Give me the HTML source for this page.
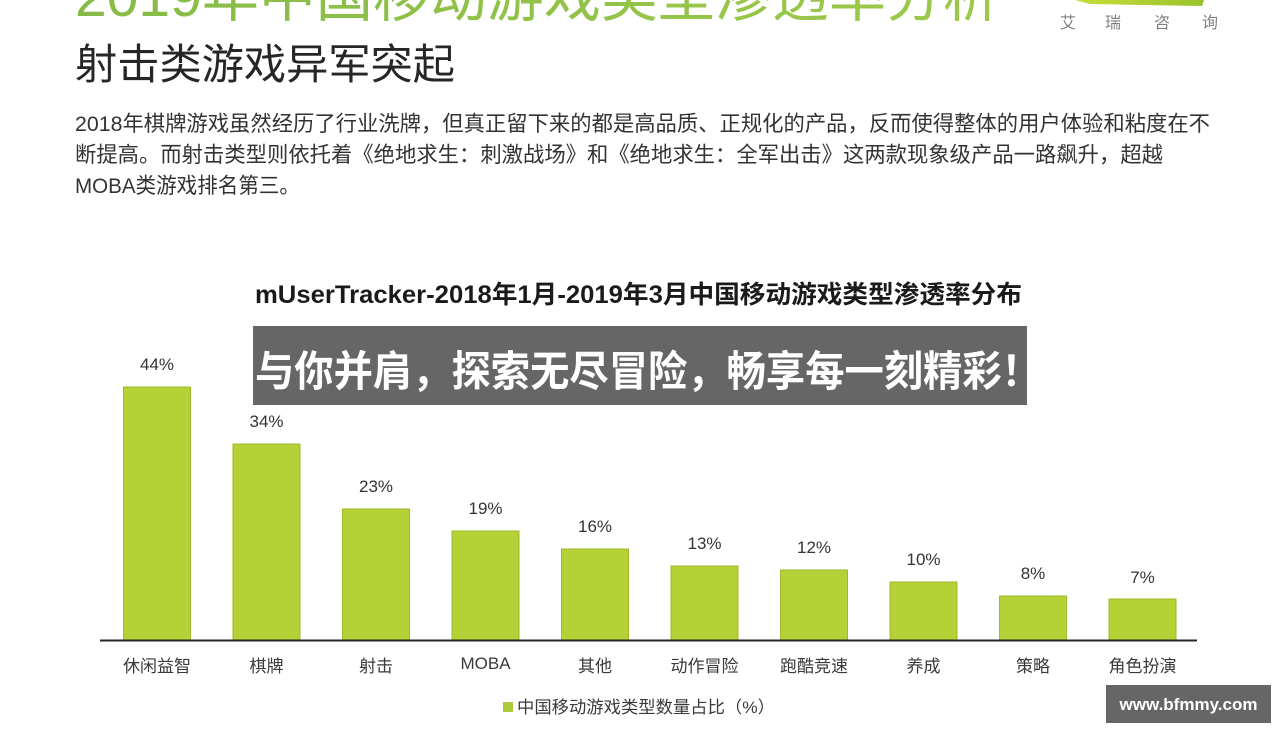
<!DOCTYPE html>
<html>
<head>
<meta charset="utf-8">
<style>
  html, body { margin:0; padding:0; background:#ffffff; }
  body { width:1280px; height:732px; overflow:hidden; }
  svg { display:block; }
  .cjk { font-family: "Liberation Sans", "Noto Sans CJK SC", sans-serif; }
</style>
</head>
<body>
<svg width="1280" height="732" viewBox="0 0 1280 732" xmlns="http://www.w3.org/2000/svg" class="cjk">
  <defs>
    <linearGradient id="tg" x1="0" y1="0" x2="1" y2="0">
      <stop offset="0" stop-color="#86bb47"/>
      <stop offset="1" stop-color="#9cc94a"/>
    </linearGradient>
    <linearGradient id="lg" x1="0" y1="0" x2="1" y2="0">
      <stop offset="0" stop-color="#c8dc3a"/>
      <stop offset="1" stop-color="#98c42a"/>
    </linearGradient>
  </defs>
  <rect x="0" y="0" width="1280" height="732" fill="#ffffff"/>

  <!-- top green title (cut off) -->
  <text x="75" y="16" font-size="57" fill="url(#tg)" textLength="925" lengthAdjust="spacingAndGlyphs">2019年中国移动游戏类型渗透率分析</text>

  <!-- logo -->
  <polygon points="1075,0 1204,0 1202,6 1090,4" fill="url(#lg)"/>
  <g font-size="16" fill="#808080" text-anchor="middle">
    <text x="1068" y="28">艾</text>
    <text x="1113" y="28">瑞</text>
    <text x="1162" y="28">咨</text>
    <text x="1210" y="28">询</text>
  </g>

  <!-- subtitle -->
  <text x="75" y="79" font-size="42" fill="#262626" textLength="380" lengthAdjust="spacingAndGlyphs">射击类游戏异军突起</text>

  <!-- paragraph -->
  <g font-size="21.5" fill="#333333">
    <text x="75" y="131" textLength="1135" lengthAdjust="spacingAndGlyphs">2018年棋牌游戏虽然经历了行业洗牌，但真正留下来的都是高品质、正规化的产品，反而使得整体的用户体验和粘度在不</text>
    <text x="75" y="162" textLength="1088" lengthAdjust="spacingAndGlyphs">断提高。而射击类型则依托着《绝地求生：刺激战场》和《绝地求生：全军出击》这两款现象级产品一路飙升，超越</text>
    <text x="75" y="193" textLength="225" lengthAdjust="spacingAndGlyphs">MOBA类游戏排名第三。</text>
  </g>

  <!-- chart title -->
  <text x="255" y="303" font-size="25" font-weight="bold" fill="#1a1a1a" textLength="767" lengthAdjust="spacingAndGlyphs">mUserTracker-2018年1月-2019年3月中国移动游戏类型渗透率分布</text>

  <!-- bars -->
  <g fill="#b4d236" stroke="#9cb92c" stroke-width="1">
    <rect x="123.5" y="387" width="67" height="253"/>
    <rect x="233" y="444" width="67" height="196"/>
    <rect x="342.5" y="509" width="67" height="131"/>
    <rect x="452" y="531" width="67" height="109"/>
    <rect x="561.5" y="549" width="67" height="91"/>
    <rect x="671" y="566" width="67" height="74"/>
    <rect x="780.5" y="570" width="67" height="70"/>
    <rect x="890" y="582" width="67" height="58"/>
    <rect x="999.5" y="596" width="67" height="44"/>
    <rect x="1109" y="599" width="67" height="41"/>
  </g>

  <!-- value labels -->
  <g font-size="17" fill="#333333" text-anchor="middle">
    <text x="157" y="370">44%</text>
    <text x="266.5" y="427">34%</text>
    <text x="376" y="492">23%</text>
    <text x="485.5" y="514">19%</text>
    <text x="595" y="532">16%</text>
    <text x="704.5" y="549">13%</text>
    <text x="814" y="553">12%</text>
    <text x="923.5" y="565">10%</text>
    <text x="1033" y="579">8%</text>
    <text x="1142.5" y="583">7%</text>
  </g>

  <!-- axis -->
  <line x1="100" y1="640.5" x2="1197" y2="640.5" stroke="#262626" stroke-width="2"/>

  <!-- category labels -->
  <g font-size="17" fill="#3a3a3a" text-anchor="middle">
    <text x="157" y="672">休闲益智</text>
    <text x="266.5" y="672">棋牌</text>
    <text x="376" y="672">射击</text>
    <text x="485.5" y="669">MOBA</text>
    <text x="595" y="672">其他</text>
    <text x="704.5" y="672">动作冒险</text>
    <text x="814" y="672">跑酷竞速</text>
    <text x="923.5" y="672">养成</text>
    <text x="1033" y="672">策略</text>
    <text x="1142.5" y="672">角色扮演</text>
  </g>

  <!-- legend -->
  <rect x="503" y="702" width="10" height="10" fill="#a9cb3c"/>
  <text x="517" y="713" font-size="17" fill="#3a3a3a" textLength="258" lengthAdjust="spacingAndGlyphs">中国移动游戏类型数量占比（%）</text>

  <!-- overlay banner -->
  <rect x="253" y="326" width="774" height="79" fill="#666666"/>
  <text x="255" y="386" font-size="42" font-weight="bold" fill="#ffffff" textLength="786" lengthAdjust="spacingAndGlyphs">与你并肩，探索无尽冒险，畅享每一刻精彩！</text>

  <!-- watermark -->
  <rect x="1106" y="685" width="165" height="38" fill="#666666"/>
  <text x="1188.5" y="710" font-size="17" font-weight="bold" fill="#ffffff" text-anchor="middle">www.bfmmy.com</text>
</svg>
</body>
</html>
